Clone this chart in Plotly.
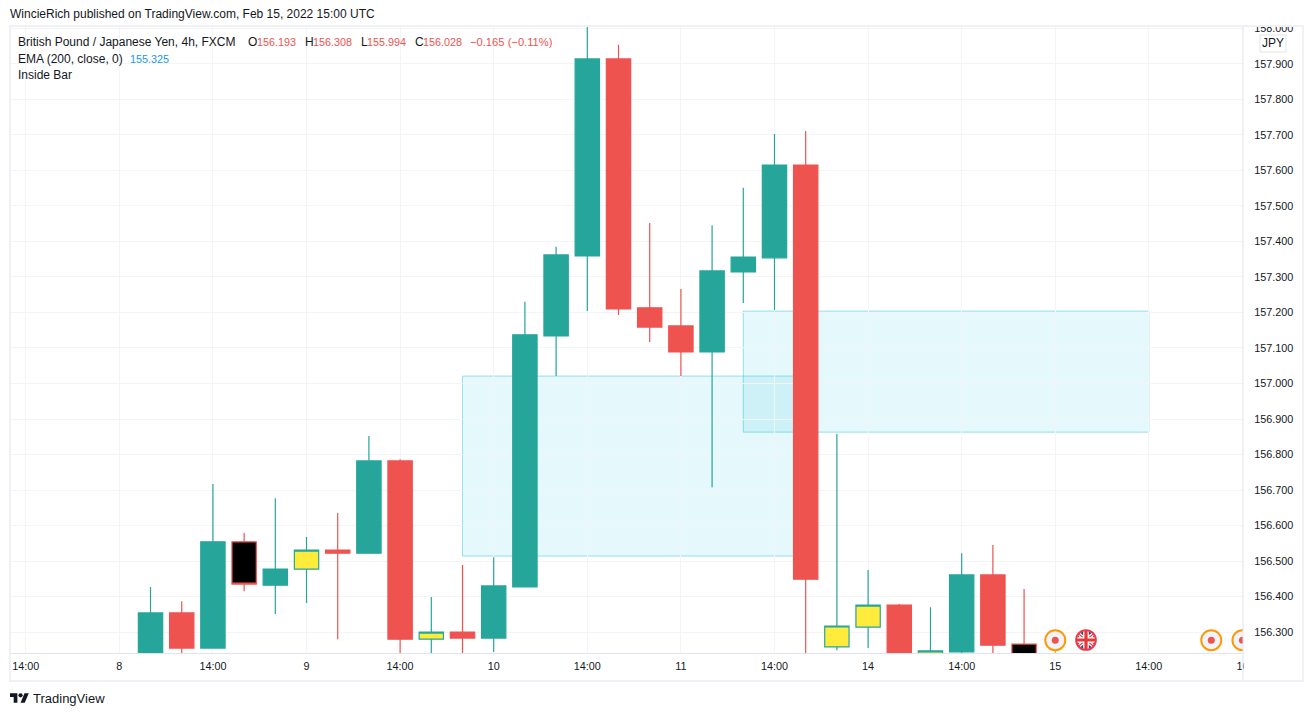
import base64
import plotly.graph_objects as go

# GBP/JPY 4h candles (bar index 4..32)
bar_index = list(range(4, 33))
open_ = [156.235, 156.354, 156.255, 156.554, 156.432, 156.477, 156.531, 156.522, 156.782, 156.280,
         156.300, 156.283, 156.427, 157.134, 157.359, 157.914, 157.213, 157.162, 157.089, 157.314,
         157.354, 157.615, 156.258, 156.314, 156.376, 156.220, 156.244, 156.461, 156.266]
high = [156.427, 156.387, 156.717, 156.579, 156.677, 156.568, 156.635, 156.852, 156.787, 156.399,
        156.489, 156.511, 157.230, 157.385, 158.050, 157.954, 157.452, 157.266, 157.446, 157.551,
        157.703, 157.711, 156.858, 156.475, 156.379, 156.370, 156.522, 156.545, 156.421]
low = [156.220, 156.235, 156.255, 156.415, 156.351, 156.382, 156.280, 156.522, 156.220, 156.220,
       156.220, 156.244, 156.427, 157.021, 157.204, 157.193, 157.117, 157.021, 156.708, 157.227,
       157.207, 156.220, 156.249, 156.255, 156.220, 156.220, 156.241, 156.220, 156.220]
close = [156.354, 156.255, 156.554, 156.435, 156.477, 156.531, 156.522, 156.782, 156.280, 156.300,
         156.283, 156.430, 157.137, 157.362, 157.914, 157.210, 157.159, 157.089, 157.317, 157.356,
         157.615, 156.449, 156.317, 156.376, 156.235, 156.247, 156.461, 156.263, 156.220]

# bars recoloured by the Inside Bar script
yellow_bars = [9, 13, 26, 27, 29]
black_bars = [7, 32]

# highlighted zones: left bar, right bar, top price, bottom price
zone_left = [14, 23]
zone_right = [25, 36]
zone_top = [157.021, 157.204]
zone_bottom = [156.514, 156.863]

# event markers on the time axis
event_bars = [33, 38, 39]
flag_bar = 34
event_price = 156.277

time_ticks = [0, 3, 6, 9, 12, 15, 18, 21, 24, 27, 30, 33, 36, 39]
time_labels = ["14:00", "8", "14:00", "9", "14:00", "10", "14:00", "11", "14:00", "14",
               "14:00", "15", "14:00", "16"]
price_ticks = [156.3, 156.4, 156.5, 156.6, 156.7, 156.8, 156.9, 157.0, 157.1, 157.2,
               157.3, 157.4, 157.5, 157.6, 157.7, 157.8, 157.9, 158.0]

GREEN = "#26a69a"
RED = "#ef5350"
TEXT = "#131722"
FONT = "Liberation Sans"
WORD_SIZE = 12
NUM_SIZE = 10.8

# plot area in page pixels
LEFT, RIGHT, TOP, BOTTOM = 11, 1243, 27, 653


def px(x):
    return (x - LEFT) / (RIGHT - LEFT)


def py(y):
    return (BOTTOM - y) / (BOTTOM - TOP)


def rect(x0, y0, x1, y1, fill=None, line=None, width=1):
    return dict(type="rect", xref="paper", yref="paper", layer="above",
                x0=px(x0), x1=px(x1), y0=py(y0), y1=py(y1),
                fillcolor=fill or "rgba(0,0,0,0)",
                line=dict(color=line or "rgba(0,0,0,0)", width=width if line else 0))


def label(x, y, text, color=TEXT, size=WORD_SIZE, anchor="left"):
    return dict(xref="paper", yref="paper", x=px(x), y=py(y), text=text, showarrow=False,
                xanchor=anchor, yanchor="middle", borderpad=0, borderwidth=0,
                font=dict(family=FONT, size=size, color=color))


def svg_uri(svg):
    return "data:image/svg+xml;base64," + base64.b64encode(svg.encode()).decode()


def candles(keep, up_fill=GREEN, down_fill=RED):
    rows = [k for k, i in enumerate(bar_index) if keep(i)]
    return go.Candlestick(
        x=[bar_index[k] for k in rows],
        open=[open_[k] for k in rows], high=[high[k] for k in rows],
        low=[low[k] for k in rows], close=[close[k] for k in rows],
        increasing=dict(line=dict(color=GREEN, width=1.2), fillcolor=up_fill),
        decreasing=dict(line=dict(color=RED, width=1.2), fillcolor=down_fill),
    )


fig = go.Figure()
fig.add_trace(candles(lambda i: i not in yellow_bars and i not in black_bars))
fig.add_trace(candles(lambda i: i in yellow_bars, "#ffeb3b", "#ffeb3b"))
fig.add_trace(candles(lambda i: i in black_bars, "#000000", "#000000"))
fig.add_scatter(x=event_bars, y=[event_price] * len(event_bars), mode="markers",
                marker=dict(size=20, color="#f0f3fa", line=dict(color="#ff9800", width=2)))
fig.add_scatter(x=event_bars, y=[event_price] * len(event_bars), mode="markers",
                marker=dict(size=7, color=RED))

shapes = []
for x0, x1, y0, y1 in zip(zone_left, zone_right, zone_top, zone_bottom):
    shapes.append(dict(type="rect", xref="x", yref="y", layer="below", x0=x0, x1=x1, y0=y0, y1=y1,
                       fillcolor="rgba(0,188,212,0.10)",
                       line=dict(color="rgba(0,188,212,0.4)", width=1)))
# masks for the clipped labels, then the frame of the chart
shapes += [
    rect(0, 0, 1313, 26, fill="white"),
    rect(RIGHT + 1, BOTTOM + 1, 1302, 680, fill="white"),
    rect(10, 26, 1303, 681, line="#eff1f6", width=2),
    dict(type="line", xref="paper", yref="paper", layer="above", x0=px(RIGHT), x1=px(RIGHT),
         y0=py(27), y1=py(680), line=dict(color="#e0e3eb", width=1)),
    rect(1260, 35, 1286, 52, fill="white", line="#e0e3eb", width=1),
    dict(type="line", xref="x", yref="paper", layer="above", x0=event_bars[0], x1=event_bars[0],
         y0=py(650), y1=py(653), line=dict(color="#ff9800", width=1)),
]

annotations = [
    label(10, 14, "WincieRich published on TradingView.com, Feb 15, 2022 15:00 UTC"),
    label(18, 42, "British Pound / Japanese Yen, 4h, FXCM"),
    label(248, 42, "O"), label(257, 42, "156.193", RED, NUM_SIZE),
    label(305, 42, "H"), label(313, 42, "156.308", RED, NUM_SIZE),
    label(361, 42, "L"), label(367, 42, "155.994", RED, NUM_SIZE),
    label(415, 42, "C"), label(423, 42, "156.028", RED, NUM_SIZE),
    label(470, 42, "\u22120.165 (\u22120.11%)", RED, 11.2),
    label(18, 59, "EMA (200, close, 0)"), label(130, 59, "155.325", "#2196f3", NUM_SIZE),
    label(18, 75, "Inside Bar"),
    label(1273, 43, "JPY", anchor="center"),
    label(33, 698, "TradingView", size=13),
]

flag_svg = """<svg xmlns="http://www.w3.org/2000/svg" viewBox="0 0 24 24">
<defs><clipPath id="c"><circle cx="12" cy="12" r="10"/></clipPath></defs>
<g clip-path="url(#c)"><rect width="24" height="24" fill="#1f4fa3"/>
<path d="M0 2L24 22M24 2L0 22" stroke="#fff" stroke-width="4"/>
<path d="M0 2L24 22M24 2L0 22" stroke="#e53935" stroke-width="1.3"/>
<path d="M12 0V24M0 12H24" stroke="#fff" stroke-width="6"/>
<path d="M12 0V24M0 12H24" stroke="#e53935" stroke-width="3.5"/></g>
<circle cx="12" cy="12" r="10.8" fill="none" stroke="#f23645" stroke-width="2"/></svg>"""

logo_svg = """<svg xmlns="http://www.w3.org/2000/svg" viewBox="0 0 36 28">
<path d="M14 22H7V11H0V4h14v18zM28 22h-8l7.5-18h8L28 22z" fill="#131722"/>
<circle cx="20" cy="8" r="4" fill="#131722"/></svg>"""

images = [
    dict(source=svg_uri(flag_svg), xref="paper", yref="paper", x=px(1075), y=py(629),
         sizex=22 / (RIGHT - LEFT), sizey=22 / (BOTTOM - TOP), xanchor="left", yanchor="top",
         layer="above"),
    dict(source=svg_uri(logo_svg), xref="paper", yref="paper", x=px(10), y=py(691),
         sizex=19 / (RIGHT - LEFT), sizey=15 / (BOTTOM - TOP), xanchor="left", yanchor="top",
         layer="above"),
]

fig.update_layout(
    width=1313, height=716,
    margin=dict(l=LEFT, r=1313 - RIGHT, t=TOP, b=716 - BOTTOM, pad=0),
    paper_bgcolor="white", plot_bgcolor="white",
    boxmode="overlay", boxgap=0.22, boxgroupgap=0, showlegend=False,
    font=dict(family=FONT, size=NUM_SIZE, color=TEXT),
    shapes=shapes, annotations=annotations, images=images,
    xaxis=dict(range=[-0.472, 39.017], tickmode="array", tickvals=time_ticks, ticktext=time_labels,
               rangeslider=dict(visible=False),
               showgrid=True, gridcolor="#f3f4f6", gridwidth=1, zeroline=False,
               showline=True, linecolor="#e0e3eb", linewidth=1,
               ticks="outside", ticklen=3, tickcolor="white"),
    yaxis=dict(range=[156.241, 158.004], side="right", tickmode="array", tickvals=price_ticks,
               ticktext=[f"{p:.3f}" for p in price_ticks],
               showgrid=True, gridcolor="#f3f4f6", gridwidth=1, zeroline=False,
               showline=False, ticks="outside", ticklen=8, tickcolor="white"),
)

fig.write_html("out.html", config={"displayModeBar": False},
               post_script="document.body.style.margin='0';")
